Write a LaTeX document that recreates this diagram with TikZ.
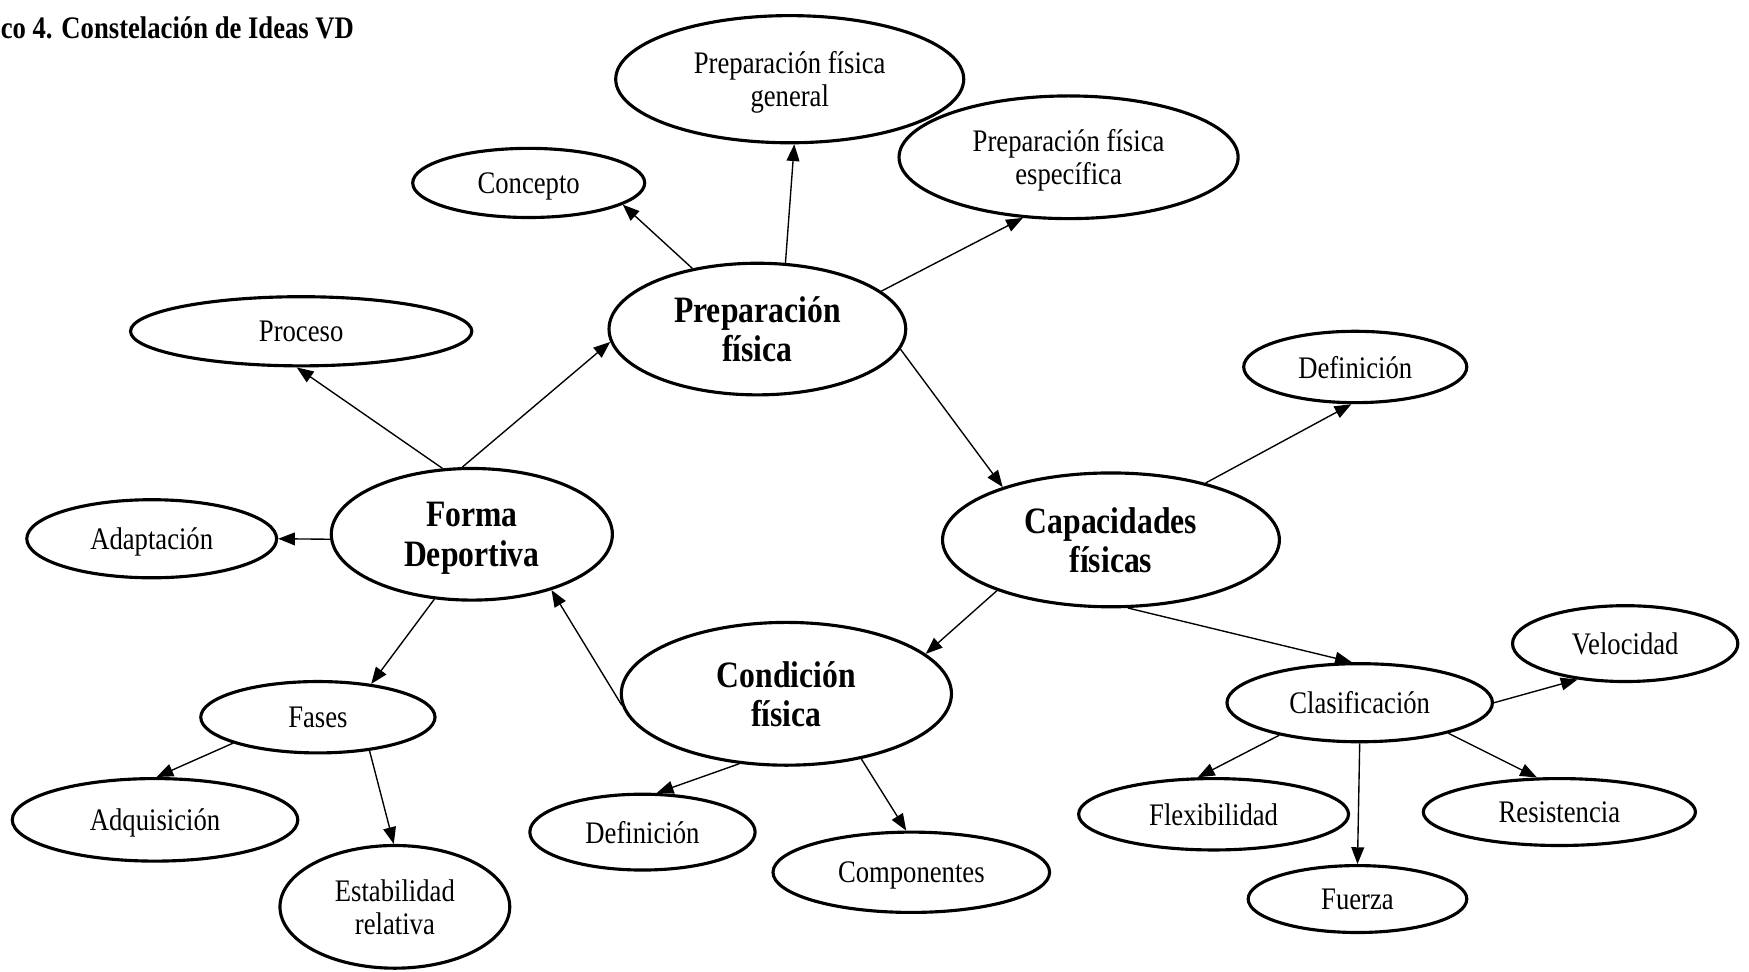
\documentclass[tikz,border=0pt]{standalone}
\usepackage{fontspec}
\setmainfont{Liberation Serif}[FakeStretch=0.85]
\usetikzlibrary{shapes.geometric, arrows.meta}

\begin{document}
\begin{tikzpicture}[x=0.1mm, y=-0.1mm,
    idea/.style={ellipse, draw, line width=0.8pt, inner sep=0pt, align=center, text depth=0pt,
                 font=\fontsize{8pt}{8.5pt}\selectfont},
    nucleo/.style={idea, font=\fontsize{9.5pt}{10pt}\selectfont\bfseries},
    enlace/.style={line width=0.35pt, -{Triangle[length=1.5mm, width=1.15mm]}}]
    \useasboundingbox (0,0) rectangle (1568,871);

    % Titulo
    \node[anchor=west, inner sep=0pt, font=\fontsize{8pt}{8.5pt}\selectfont\bfseries] (titulo) at (0,25) {co 4. Constelación de Ideas VD};

    % Nodos centrales
    \node[nucleo, minimum width=26.6mm, minimum height=11.8mm] (prepf) at (679,295) {Preparación\\física};
    \node[nucleo, minimum width=25.2mm, minimum height=11.8mm] (forma) at (423,479) {Forma\\Deportiva};
    \node[nucleo, minimum width=30.2mm, minimum height=12.0mm] (capf) at (996,484) {Capacidades\\físicas};
    \node[nucleo, minimum width=29.6mm, minimum height=12.8mm] (condf) at (705,622) {Condición\\física};

    % Preparacion fisica
    \node[idea, minimum width=31.2mm, minimum height=11.4mm] (pfgen) at (708,71) {Preparación física\\general};
    \node[idea, minimum width=20.8mm, minimum height=6.2mm] (concepto) at (474,164) {Concepto};
    \node[idea, minimum width=30.4mm, minimum height=11.0mm] (pfesp) at (958,141) {Preparación física\\específica};

    % Forma deportiva
    \node[idea, minimum width=30.6mm, minimum height=6.2mm] (proceso) at (270,297) {Proceso};
    \node[idea, minimum width=22.4mm, minimum height=7.0mm] (adapt) at (136,483) {Adaptación};
    \node[idea, minimum width=21.0mm, minimum height=6.4mm] (fases) at (285,643) {Fases};
    \node[idea, minimum width=25.6mm, minimum height=7.4mm] (adq) at (139,735) {Adquisición};
    \node[idea, minimum width=20.6mm, minimum height=11.0mm] (estab) at (354,813) {Estabilidad\\relativa};

    % Condicion fisica
    \node[idea, minimum width=20.2mm, minimum height=6.8mm] (defcond) at (576,746) {Definición};
    \node[idea, minimum width=24.8mm, minimum height=7.2mm] (comp) at (817,782) {Componentes};

    % Capacidades fisicas
    \node[idea, minimum width=20.0mm, minimum height=6.4mm] (defcap) at (1215,329) {Definición};
    \node[idea, minimum width=23.8mm, minimum height=7.0mm] (clasif) at (1219,630) {Clasificación};
    \node[idea, minimum width=20.2mm, minimum height=6.8mm] (veloc) at (1457,577) {Velocidad};
    \node[idea, minimum width=24.2mm, minimum height=6.4mm] (flex) at (1088,730) {Flexibilidad};
    \node[idea, minimum width=24.4mm, minimum height=6.0mm] (resist) at (1398,728) {Resistencia};
    \node[idea, minimum width=19.6mm, minimum height=6.0mm] (fuerza) at (1217,806) {Fuerza};

    % Flechas
    \draw[enlace] (prepf.137) -- (concepto.-13);
    \draw[enlace] (prepf.67) -- (pfgen.-86);
    \draw[enlace] (prepf.17) -- (pfesp.-127);
    \draw[enlace] (prepf.-8) -- (capf.154);
    \draw[enlace] (forma.114) -- (proceso.-97);
    \draw[enlace] (forma.98) -- (prepf.185);
    \draw[enlace] (forma.182) -- (adapt.east);
    \draw[enlace] (forma.-120) -- (fases.32);
    \draw[enlace] (condf.184) -- (forma.-35);
    \draw[enlace] (capf.31) -- (defcap.-96);
    \draw[enlace] (capf.204) -- (condf.16);
    \draw[enlace] (capf.-76) -- (clasif.101);
    \draw[enlace] (fases.197) -- (adq.88);
    \draw[enlace] (fases.-33) -- (estab.91);
    \draw[enlace] (condf.-124) -- (defcond.70);
    \draw[enlace] (condf.-41) -- (comp.97);
    \draw[enlace] (clasif.east) -- (veloc.217);
    \draw[enlace] (clasif.202) -- (flex.113);
    \draw[enlace] (clasif.south) -- (fuerza.north);
    \draw[enlace] (clasif.-19) -- (resist.123);
\end{tikzpicture}
\end{document}
